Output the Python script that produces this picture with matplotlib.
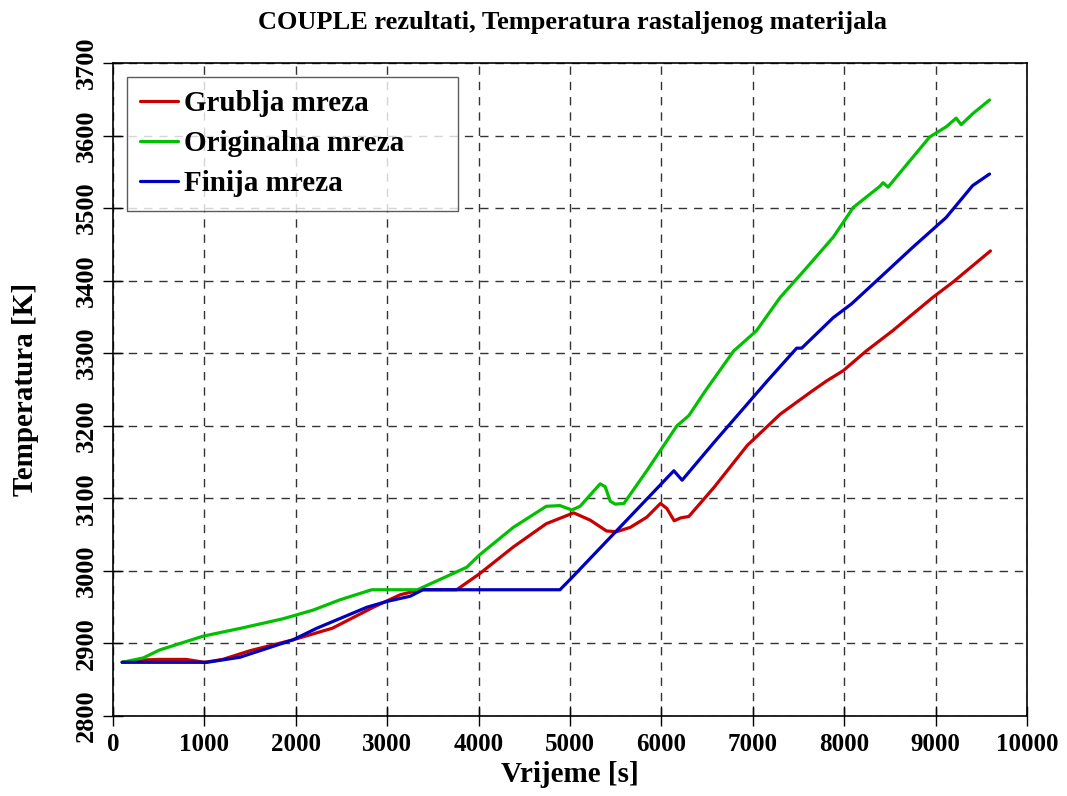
import matplotlib
matplotlib.use("Agg")
import matplotlib.pyplot as plt

# Data
x_grub = [100, 300, 500, 800, 1000, 1200, 1500, 1970, 2400, 2850, 3140, 3360, 3760, 4010, 4380, 4740, 5040, 5220, 5400,
          5510, 5660, 5840, 5990, 6060, 6140, 6210, 6300, 6575, 6940, 7300, 7650, 7810, 7990, 8240, 8530, 8970, 9190, 9600]
t_grub = [2874, 2877, 2878, 2878, 2874, 2878, 2890, 2905, 2921, 2950, 2967, 2974, 2974, 2996, 3033, 3065, 3080, 3070, 3055,
          3054, 3060, 3074, 3093, 3086, 3069, 3073, 3075, 3115, 3173, 3216, 3248, 3262, 3276, 3303, 3331, 3377, 3398, 3441]

x_orig = [100, 330, 510, 985, 1400, 1860, 2190, 2480, 2830, 3330, 3870, 4010, 4380, 4740, 4890, 5020, 5110, 5330, 5385,
          5440, 5495, 5590, 5840, 6170, 6300, 6480, 6790, 7040, 7300, 7590, 7880, 8100, 8390, 8425, 8480, 8750, 8935,
          9115, 9225, 9280, 9405, 9590]
t_orig = [2874, 2880, 2891, 2910, 2921, 2934, 2946, 2960, 2974, 2974, 3005, 3022, 3060, 3089, 3090, 3084, 3089, 3120, 3116,
          3096, 3092, 3093, 3138, 3200, 3214, 3248, 3303, 3331, 3377, 3418, 3460, 3501, 3530, 3535, 3529, 3570, 3598,
          3612, 3624, 3615, 3630, 3649]

x_fin = [100, 1030, 1390, 1970, 2230, 2780, 3000, 3250, 3390, 4890, 5000, 6136, 6227, 6575, 7160, 7480, 7535, 7880,
         8080, 8390, 8750, 9115, 9405, 9590]
t_fin = [2874, 2874, 2881, 2905, 2921, 2950, 2958, 2965, 2974, 2974, 2988, 3138, 3125, 3177, 3262, 3307, 3307, 3349,
         3368, 3404, 3446, 3487, 3531, 3547]

labels = ["Grublja mreza", "Originalna mreza", "Finija mreza"]
colors = ["#c80000", "#00c000", "#0000c0"]
xticks = [0, 1000, 2000, 3000, 4000, 5000, 6000, 7000, 8000, 9000, 10000]
yticks = [2800, 2900, 3000, 3100, 3200, 3300, 3400, 3500, 3600, 3700]

plt.rcParams['font.family'] = ['Liberation Serif', 'DejaVu Serif']
plt.rcParams['font.weight'] = 'bold'

fig = plt.figure(figsize=(10.67, 7.96), dpi=100)
ax = fig.add_axes([113/1067, 80/796, 914/1067, 653/796])

for xs, ts, lab, c in zip([x_grub, x_orig, x_fin], [t_grub, t_orig, t_fin], labels, colors):
    ax.plot(xs, ts, color=c, lw=2.3, label=lab, solid_joinstyle='round', solid_capstyle='round')

ax.set_xlim(0, 10000)
ax.set_ylim(2800, 3700)
ax.set_xticks(xticks)
ax.set_yticks(yticks)
ax.set_xticklabels([str(v) for v in xticks], fontsize=18, fontweight='bold')
ax.set_yticklabels([str(v) for v in yticks], fontsize=19, fontweight='bold', rotation=90, va='center')
ax.tick_params(direction='inout', length=14, width=1, pad=4)
ax.tick_params(axis='x', pad=5)
ax.grid(True, color='#333333', linestyle=(0, (6, 5)), linewidth=1)
for s in ax.spines.values():
    s.set_linewidth(1.2)

ax.set_xlabel("Vrijeme [s]", fontsize=21, fontweight='bold', labelpad=4)
ax.set_ylabel("Temperatura [K]", fontsize=21, fontweight='bold', labelpad=26)
fig.text(572/1067, 1 - 22/796, "COUPLE rezultati, Temperatura rastaljenog materijala", fontsize=19,
         fontweight='bold', ha='center', va='center')

leg = ax.legend(loc='upper left', bbox_to_anchor=(14/914, 1 - 14/653, 331/914, 0.0), mode='expand', fontsize=21,
                frameon=True, fancybox=False, edgecolor='#333333', handlelength=1.3, handletextpad=0.2,
                borderpad=0.45, labelspacing=0.45, borderaxespad=0, handleheight=0.7)
leg.get_frame().set_linewidth(1.0)
for t in leg.get_texts():
    t.set_fontweight('bold')

fig.savefig("out.png", dpi=100)
